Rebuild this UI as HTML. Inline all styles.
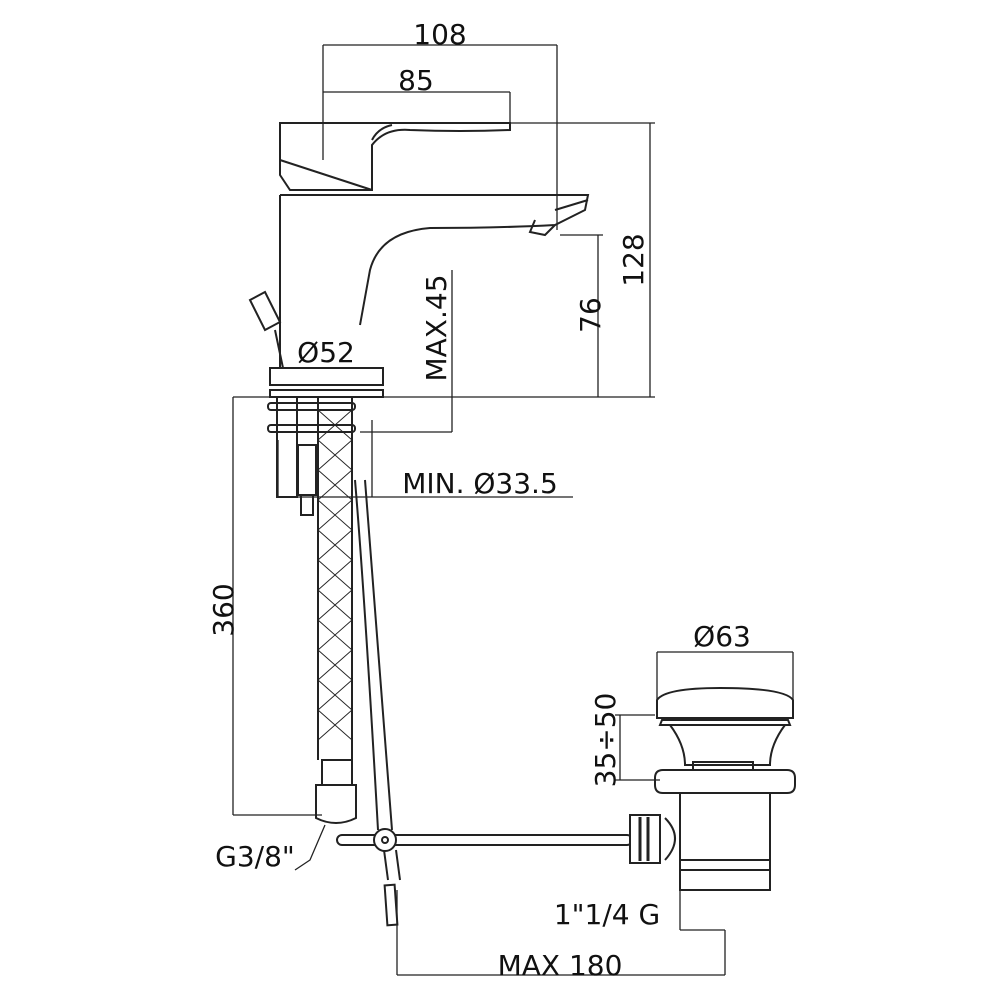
<!DOCTYPE html>
<html><head><style>body{margin:0;background:#fff}svg{display:block}</style></head><body>
<svg width="1000" height="1000" viewBox="0 0 1000 1000" xmlns="http://www.w3.org/2000/svg" font-family="DejaVu Sans, Liberation Sans, sans-serif" font-size="28" fill="none" stroke="#222" stroke-width="2">
<g stroke-width="1.3">
<line x1="323" y1="45" x2="557" y2="45"/><line x1="323" y1="45" x2="323" y2="160"/><line x1="557" y1="45" x2="557" y2="230"/>
<line x1="323" y1="92" x2="510" y2="92"/><line x1="510" y1="92" x2="510" y2="125"/>
<line x1="510" y1="123" x2="655" y2="123"/><line x1="650" y1="123" x2="650" y2="397"/>
<line x1="560" y1="235" x2="603" y2="235"/><line x1="598" y1="235" x2="598" y2="397"/>
<line x1="383" y1="397" x2="655" y2="397"/>
<line x1="452" y1="270" x2="452" y2="432"/><line x1="360" y1="432" x2="452" y2="432"/>
<line x1="278" y1="440" x2="278" y2="497"/><line x1="372" y1="420" x2="372" y2="497"/><line x1="278" y1="497" x2="573" y2="497"/>
<line x1="233" y1="397" x2="233" y2="815"/><line x1="233" y1="397" x2="270" y2="397"/><line x1="233" y1="815" x2="322" y2="815"/>
<line x1="657" y1="652" x2="793" y2="652"/><line x1="657" y1="652" x2="657" y2="700"/><line x1="793" y1="652" x2="793" y2="700"/>
<line x1="620" y1="715" x2="620" y2="780"/><line x1="615" y1="715" x2="655" y2="715"/><line x1="615" y1="780" x2="660" y2="780"/>
<line x1="397" y1="975" x2="725" y2="975"/><line x1="397" y1="890" x2="397" y2="975"/><line x1="725" y1="930" x2="725" y2="975"/>
<line x1="680" y1="890" x2="680" y2="930"/><line x1="680" y1="930" x2="725" y2="930"/>
<path d="M325 825 L310 860 L295 870"/>
</g>
<path d="M280 123 H510 V130 Q460 132 410 130 Q385 128 372 145 V190 H290 L280 175 Z"/>
<path d="M280 160 L372 190"/>
<path d="M372 140 Q378 128 392 125"/>
<path d="M280 195 V368"/>
<path d="M280 195 H588 L585 210 L555 225 Q500 228 430 228 Q380 232 370 270 L360 325"/>
<path d="M555 225 L545 235 L530 232 L535 220"/>
<path d="M555 210 L588 200"/>
<path d="M250 300 L265 292 L280 322 L265 330 Z"/><line x1="275" y1="330" x2="283" y2="368"/>
<rect x="270" y="368" width="113" height="17"/><rect x="270" y="390" width="113" height="7"/>
<rect x="268" y="403" width="87" height="7" rx="3"/><rect x="268" y="425" width="87" height="7" rx="3"/>
<rect x="277" y="397" width="20" height="100"/>
<rect x="298" y="445" width="18" height="50"/><rect x="301" y="495" width="12" height="20"/>
<path d="M318 397 V760 M352 397 V760"/>
<g stroke-width="0.9"><path d="M318 410 L352 440 M318 440 L352 470 M318 470 L352 500 M318 500 L352 530 M318 530 L352 560 M318 560 L352 590 M318 590 L352 620 M318 620 L352 650 M318 650 L352 680 M318 680 L352 710 M318 710 L352 740 M352 410 L318 440 M352 440 L318 470 M352 470 L318 500 M352 500 L318 530 M352 530 L318 560 M352 560 L318 590 M352 590 L318 620 M352 620 L318 650 M352 650 L318 680 M352 680 L318 710 M352 710 L318 740"/></g>
<rect x="322" y="760" width="30" height="25"/><path d="M316 785 H356 V818 Q336 828 316 818 Z"/>
<path d="M355 480 Q365 600 378 830 M365 480 Q375 600 392 830"/>
<path d="M384 850 L388 880 M396 850 L400 880"/>
<rect x="386" y="885" width="10" height="40" transform="rotate(-4 391 905)"/>
<rect x="337" y="835" width="295" height="10" rx="5" fill="#fff"/>
<circle cx="385" cy="840" r="11" fill="#fff"/><circle cx="385" cy="840" r="3"/>
<path d="M657 718 V700 Q665 688 720 688 Q785 688 793 700 V718 Z"/>
<path d="M662 720 H788 L790 725 H660 Z"/>
<path d="M670 725 Q685 745 685 765 H770 Q770 745 785 725"/>
<rect x="693" y="762" width="60" height="8"/>
<path d="M663 770 H787 Q795 770 795 778 V785 Q795 793 787 793 H663 Q655 793 655 785 V778 Q655 770 663 770 Z"/>
<path d="M680 793 V890 H770 V793"/><line x1="680" y1="860" x2="770" y2="860"/><line x1="680" y1="870" x2="770" y2="870"/>
<path d="M665 818 Q685 838 665 860"/>
<rect x="630" y="815" width="30" height="48" fill="#fff"/>
<g stroke-width="3"><line x1="640" y1="817" x2="640" y2="861"/><line x1="648" y1="817" x2="648" y2="861"/></g>
<g fill="#111" stroke="none">
<text x="440" y="44" text-anchor="middle">108</text>
<text x="416" y="90" text-anchor="middle">85</text>
<text x="326" y="362" text-anchor="middle">Ø52</text>
<text x="480" y="493" text-anchor="middle">MIN. Ø33.5</text>
<text transform="translate(446 328) rotate(-90)" text-anchor="middle">MAX.45</text>
<text transform="translate(600 315) rotate(-90)" text-anchor="middle">76</text>
<text transform="translate(643 260) rotate(-90)" text-anchor="middle">128</text>
<text transform="translate(233 610) rotate(-90)" text-anchor="middle">360</text>
<text x="722" y="646" text-anchor="middle">Ø63</text>
<text transform="translate(615 740) rotate(-90)" text-anchor="middle">35÷50</text>
<text x="255" y="866" text-anchor="middle">G3/8"</text>
<text x="607" y="924" text-anchor="middle">1"1/4 G</text>
<text x="560" y="975" text-anchor="middle">MAX 180</text>
</g>
</svg>
</body></html>
